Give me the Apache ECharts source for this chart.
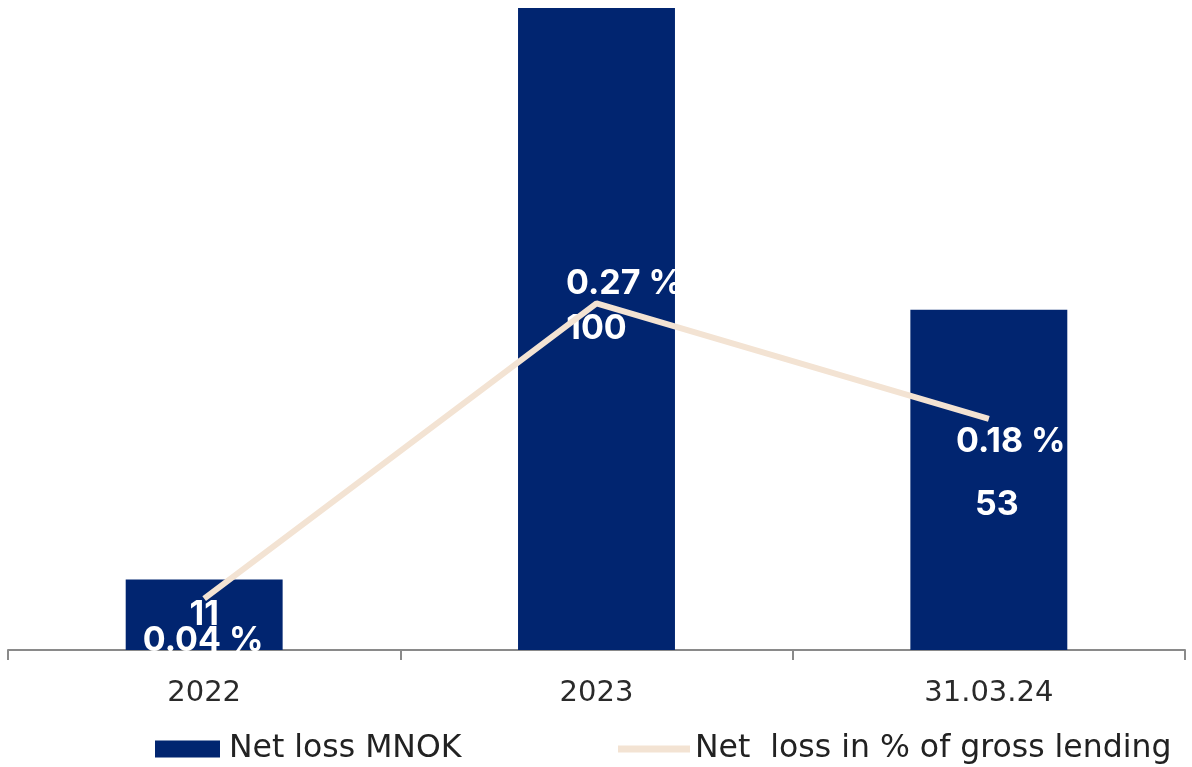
<!DOCTYPE html>
<html><head><meta charset="utf-8">
<script src="https://cdn.jsdelivr.net/npm/echarts@6/dist/echarts.min.js"></script>
<style>html,body{margin:0;padding:0;background:#fff}#c{width:1192px;height:767px}</style>
</head><body><div id="c"></div>
<script>
const categories = ['2022', '2023', '31.03.24'];
const netLossMNOK = [11, 100, 53];
const netLossPct = [0.04, 0.27, 0.18];
const seriesNames = ['Net loss MNOK', 'Net  loss in % of gross lending'];

const FONT = '"DejaVu Sans"';
const BOLD = 'Inter';
const LINE_COLOR = '#f3e3d3';
const barLabelOffsets = [[0, 0], [0, 0], [8, 25]];
const lineLabelOffsets = [[-1, 42], [28, -20], [22, 23]];

const chart = echarts.init(document.getElementById('c'));
chart.setOption({
  animation: false,
  grid: { left: 8, right: 7, top: 8, bottom: 117, containLabel: false },
  legend: [
    { data: [{ name: seriesNames[0], icon: 'rect' }], left: 150, top: 728, itemWidth: 65, itemHeight: 17,
      textStyle: { fontFamily: FONT, fontSize: 31.5, color: '#222', padding: [0, 0, 0, 4] } },
    { data: [{ name: seriesNames[1], icon: 'rect', itemStyle: { color: LINE_COLOR } }], left: 613, top: 728,
      itemWidth: 72, itemHeight: 7,
      textStyle: { fontFamily: FONT, fontSize: 31.5, color: '#222' } }
  ],
  xAxis: {
    type: 'category', data: categories, boundaryGap: true,
    axisLine: { lineStyle: { color: '#8a8a8a', width: 2 } },
    axisTick: { show: true, length: 10, lineStyle: { color: '#8a8a8a', width: 2 } },
    axisLabel: { fontFamily: FONT, fontSize: 29, color: '#2a2a2a', margin: 29 }
  },
  yAxis: [
    { type: 'value', min: 0, max: 100, show: false, splitLine: { show: false } },
    { type: 'value', min: 0, max: 0.5, show: false, splitLine: { show: false } }
  ],
  series: [
    {
      name: seriesNames[0], type: 'bar', barWidth: '40%', yAxisIndex: 0,
      itemStyle: { color: '#012570' },
      data: netLossMNOK.map((v, i) => ({ value: v, label: { offset: barLabelOffsets[i] } })),
      label: { show: true, position: 'inside', color: '#fff', fontFamily: BOLD, fontWeight: 'bold', fontSize: 34 },
      z: 2
    },
    {
      name: seriesNames[1], type: 'line', yAxisIndex: 1, symbol: 'circle', symbolSize: 2, showSymbol: true,
      lineStyle: { color: LINE_COLOR, width: 6 }, itemStyle: { color: 'rgba(0,0,0,0)' },
      data: netLossPct.map((v, i) => ({ value: v, label: { offset: lineLabelOffsets[i] } })),
      label: { show: true, position: 'inside', color: '#fff', fontFamily: BOLD, fontWeight: 'bold', fontSize: 34,
        formatter: p => p.value.toFixed(2) + ' %' },
      z: 3
    }
  ]
});
</script></body></html>
